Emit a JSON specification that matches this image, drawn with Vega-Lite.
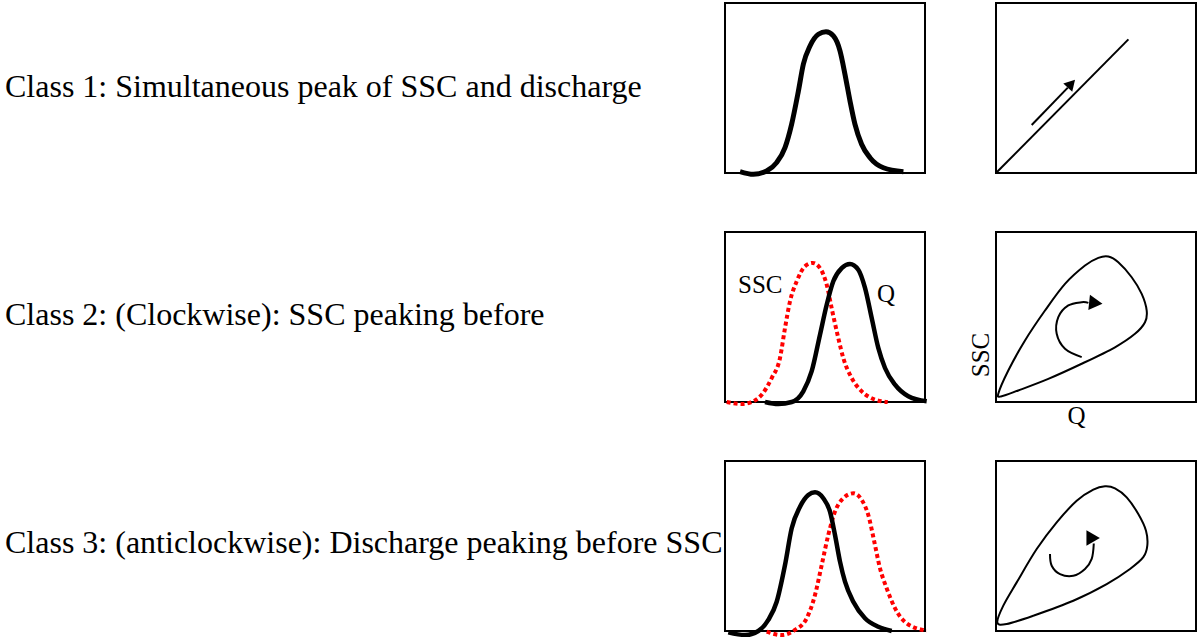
{
  "$schema": "https://vega.github.io/schema/vega-lite/v6.json",
  "padding": {"left": 0, "top": 2, "right": 0, "bottom": 0},
  "background": "white",
  "config": {"view": {"stroke": "black", "strokeWidth": 2}, "font": "Liberation Serif"},
  "datasets": {
    "lab1": [{"label": "Class 1: Simultaneous peak of SSC and discharge"}],
    "lab2": [{"label": "Class 2: (Clockwise): SSC peaking before"}],
    "lab3": [{"label": "Class 3: (anticlockwise): Discharge peaking before SSC"}],
    "r1_q": [
      {"t": 7.5, "v": 0.8}, {"t": 14.2, "v": -0.8}, {"t": 20.8, "v": 1.2}, {"t": 25.8, "v": 6.1},
      {"t": 30, "v": 14.9}, {"t": 33.3, "v": 28.6}, {"t": 36.7, "v": 48.2}, {"t": 39.2, "v": 64.1},
      {"t": 42.5, "v": 74.7}, {"t": 46.7, "v": 81.6}, {"t": 50.5, "v": 83.1}, {"t": 54.2, "v": 80.6},
      {"t": 57.5, "v": 71.8}, {"t": 60, "v": 58}, {"t": 62.5, "v": 42.4}, {"t": 65, "v": 28.6},
      {"t": 68.3, "v": 16.9}, {"t": 72.5, "v": 9}, {"t": 79.2, "v": 3.1}, {"t": 89.2, "v": 0.8}
    ],
    "r1_diag": [{"q": 0, "ssc": 0}, {"q": 66.2, "ssc": 78.6}],
    "r1_arrow": [{"q": 17.85, "ssc": 28.2}, {"q": 35.9, "ssc": 50.2}],
    "r1_head": [{"q": 37.7, "ssc": 52.5}],
    "r2_ssc": [
      {"t": 0.85, "v": 0}, {"t": 8.35, "v": -1.2}, {"t": 13.35, "v": 0}, {"t": 18.35, "v": 4.3},
      {"t": 23.35, "v": 14.1}, {"t": 27.5, "v": 25.9}, {"t": 30, "v": 43.5}, {"t": 32.5, "v": 59.2},
      {"t": 35.85, "v": 71}, {"t": 40, "v": 79.8}, {"t": 43.85, "v": 81.8}, {"t": 47.5, "v": 78.8},
      {"t": 50.85, "v": 69}, {"t": 53.65, "v": 53.4}, {"t": 56.65, "v": 37.6}, {"t": 59.15, "v": 25.9},
      {"t": 63.35, "v": 14.1}, {"t": 68.35, "v": 6.3}, {"t": 75, "v": 1.4}, {"t": 81.35, "v": 0}
    ],
    "r2_q": [
      {"t": 20, "v": 0}, {"t": 26.65, "v": -1.2}, {"t": 33.35, "v": 0}, {"t": 39.15, "v": 6.3},
      {"t": 43.35, "v": 18.1}, {"t": 47.5, "v": 39.6}, {"t": 50.85, "v": 57.2}, {"t": 54.15, "v": 71},
      {"t": 58.35, "v": 78.8}, {"t": 62.5, "v": 81.2}, {"t": 66.65, "v": 77.8}, {"t": 70, "v": 67.1},
      {"t": 73.35, "v": 49.4}, {"t": 76.65, "v": 31.8}, {"t": 80, "v": 20}, {"t": 85, "v": 10.2},
      {"t": 91.65, "v": 3.4}, {"t": 100.85, "v": 0.4}
    ],
    "r2_text": [{"t": 6.5, "v": 64.1, "label": "SSC"}, {"t": 76, "v": 58.8, "label": "Q"}],
    "r2_loop": [
      {"i": 1, "q": 1.15, "ssc": 4.8}, {"i": 2, "q": 6.15, "ssc": 18.5}, {"i": 3, "q": 14.5, "ssc": 36.2},
      {"i": 4, "q": 24.5, "ssc": 53.8}, {"i": 5, "q": 34.5, "ssc": 69.5}, {"i": 6, "q": 44.5, "ssc": 80.3},
      {"i": 7, "q": 51.15, "ssc": 84.8}, {"i": 8, "q": 56.15, "ssc": 85.6}, {"i": 9, "q": 61.15, "ssc": 82.2},
      {"i": 10, "q": 67.85, "ssc": 73.4}, {"i": 11, "q": 72.85, "ssc": 63.6}, {"i": 12, "q": 75.35, "ssc": 53.8},
      {"i": 13, "q": 74.5, "ssc": 46.9}, {"i": 14, "q": 69.5, "ssc": 40.1}, {"i": 15, "q": 59.5, "ssc": 32.2},
      {"i": 16, "q": 42.85, "ssc": 22.5}, {"i": 17, "q": 26.15, "ssc": 13.6}, {"i": 18, "q": 11.15, "ssc": 6.8},
      {"i": 19, "q": 2.85, "ssc": 3.4}
    ],
    "r2_arrow": [
      {"i": 1, "q": 42.85, "ssc": 26.4}, {"i": 2, "q": 34.5, "ssc": 31.3}, {"i": 3, "q": 30.35, "ssc": 40.1},
      {"i": 4, "q": 31.15, "ssc": 49.9}, {"i": 5, "q": 36.15, "ssc": 56.8}, {"i": 6, "q": 42.85, "ssc": 58.7},
      {"i": 7, "q": 46.2, "ssc": 58.3}
    ],
    "r2_head": [{"q": 49.9, "ssc": 58.2}],
    "r3_q": [
      {"t": 1.65, "v": -0.8}, {"t": 10, "v": -2.4}, {"t": 16.65, "v": 0}, {"t": 21.65, "v": 6.5},
      {"t": 25.85, "v": 17.2}, {"t": 30, "v": 38.8}, {"t": 33.35, "v": 60.4}, {"t": 37.5, "v": 73.1},
      {"t": 41.65, "v": 80}, {"t": 45, "v": 81.6}, {"t": 49.15, "v": 78.1}, {"t": 52.5, "v": 70.2},
      {"t": 55, "v": 56.5}, {"t": 57.5, "v": 40.8}, {"t": 60, "v": 29}, {"t": 64.15, "v": 17.2},
      {"t": 70, "v": 7.5}, {"t": 76.65, "v": 2.5}, {"t": 83.35, "v": 0}
    ],
    "r3_ssc": [
      {"t": 20.85, "v": -0.4}, {"t": 28.35, "v": -2.4}, {"t": 35, "v": 0.6}, {"t": 40.85, "v": 7.5},
      {"t": 45, "v": 21.2}, {"t": 48.35, "v": 38.8}, {"t": 51.65, "v": 56.5}, {"t": 55, "v": 70.2},
      {"t": 59.15, "v": 78.1}, {"t": 64.15, "v": 81}, {"t": 68.35, "v": 77.1}, {"t": 71.65, "v": 68.2},
      {"t": 74.65, "v": 52.5}, {"t": 77.5, "v": 36.9}, {"t": 80.85, "v": 25.1}, {"t": 85, "v": 13.4},
      {"t": 90.85, "v": 4.5}, {"t": 100.85, "v": 0.2}
    ],
    "r3_loop": [
      {"i": 1, "q": 0.65, "ssc": 5.1}, {"i": 2, "q": 3.65, "ssc": 14.9}, {"i": 3, "q": 10.35, "ssc": 28.6},
      {"i": 4, "q": 20.35, "ssc": 48.2}, {"i": 5, "q": 30.35, "ssc": 63.9}, {"i": 6, "q": 40.35, "ssc": 76.6},
      {"i": 7, "q": 48.65, "ssc": 83.1}, {"i": 8, "q": 54.5, "ssc": 85.1}, {"i": 9, "q": 59.5, "ssc": 83.9},
      {"i": 10, "q": 65.35, "ssc": 78.6}, {"i": 11, "q": 71.15, "ssc": 68.8}, {"i": 12, "q": 75, "ssc": 59},
      {"i": 13, "q": 75.65, "ssc": 50.2}, {"i": 14, "q": 73.65, "ssc": 43.4}, {"i": 15, "q": 67, "ssc": 36.5},
      {"i": 16, "q": 55.35, "ssc": 27.6}, {"i": 17, "q": 38.65, "ssc": 17.8}, {"i": 18, "q": 18.65, "ssc": 9},
      {"i": 19, "q": 5.35, "ssc": 4.1}
    ],
    "r3_arrow": [
      {"i": 1, "q": 27, "ssc": 45.3}, {"i": 2, "q": 27.85, "ssc": 38.4}, {"i": 3, "q": 32, "ssc": 33.5},
      {"i": 4, "q": 38.65, "ssc": 32.5}, {"i": 5, "q": 44.5, "ssc": 36.5}, {"i": 6, "q": 47.85, "ssc": 42.4},
      {"i": 7, "q": 48.9, "ssc": 51.5}
    ],
    "r3_head": [{"q": 46.9, "ssc": 55.8}]
  },
  "columns": 3,
  "spacing": {"row": 59, "column": 71},
  "bounds": "flush",
  "concat": [
    {
      "width": 654, "height": 170,
      "view": {"stroke": null},
      "data": {"name": "lab1"},
      "mark": {"type": "text", "align": "left", "baseline": "alphabetic", "dx": 5, "font": "Liberation Serif", "fontSize": 32, "fill": "black"},
      "encoding": {
        "x": {"datum": 0, "type": "quantitative", "scale": {"domain": [0, 1]}, "axis": null},
        "y": {"datum": 0.445, "type": "quantitative", "scale": {"domain": [0, 1]}, "axis": null},
        "text": {"field": "label"}
      }
    },
    {
      "width": 200, "height": 170,
      "encoding": {
        "x": {"field": "t", "type": "quantitative", "scale": {"domain": [0, 100]}, "axis": null},
        "y": {"field": "v", "type": "quantitative", "scale": {"domain": [0, 100]}, "axis": null}
      },
      "layer": [
        {"data": {"name": "r1_q"}, "mark": {"type": "line", "interpolate": "monotone", "stroke": "black", "strokeWidth": 5}}
      ]
    },
    {
      "width": 200, "height": 170,
      "encoding": {
        "x": {"field": "q", "type": "quantitative", "scale": {"domain": [0, 100]}, "axis": null},
        "y": {"field": "ssc", "type": "quantitative", "scale": {"domain": [0, 100]}, "axis": null}
      },
      "layer": [
        {"data": {"name": "r1_diag"}, "mark": {"type": "line", "stroke": "black", "strokeWidth": 2}},
        {"data": {"name": "r1_arrow"}, "mark": {"type": "line", "stroke": "black", "strokeWidth": 2}},
        {"data": {"name": "r1_head"}, "mark": {"type": "point", "shape": "triangle-up", "filled": true, "fill": "black", "opacity": 1, "strokeWidth": 0, "size": 150, "angle": 43}}
      ]
    },
    {
      "width": 654, "height": 170,
      "view": {"stroke": null},
      "data": {"name": "lab2"},
      "mark": {"type": "text", "align": "left", "baseline": "alphabetic", "dx": 5, "font": "Liberation Serif", "fontSize": 32, "fill": "black"},
      "encoding": {
        "x": {"datum": 0, "type": "quantitative", "scale": {"domain": [0, 1]}, "axis": null},
        "y": {"datum": 0.455, "type": "quantitative", "scale": {"domain": [0, 1]}, "axis": null},
        "text": {"field": "label"}
      }
    },
    {
      "width": 200, "height": 170,
      "encoding": {
        "x": {"field": "t", "type": "quantitative", "scale": {"domain": [0, 100]}, "axis": null},
        "y": {"field": "v", "type": "quantitative", "scale": {"domain": [0, 100]}, "axis": null}
      },
      "layer": [
        {"data": {"name": "r2_ssc"}, "mark": {"type": "line", "interpolate": "monotone", "stroke": "#ff0000", "strokeWidth": 4, "strokeDash": [4, 3]}},
        {"data": {"name": "r2_q"}, "mark": {"type": "line", "interpolate": "monotone", "stroke": "black", "strokeWidth": 4.5}},
        {"data": {"name": "r2_text"}, "mark": {"type": "text", "align": "left", "baseline": "alphabetic", "font": "Liberation Serif", "fontSize": 25, "fill": "black"}, "encoding": {"text": {"field": "label"}}}
      ]
    },
    {
      "width": 200, "height": 170,
      "encoding": {
        "x": {"field": "q", "type": "quantitative", "scale": {"domain": [0, 100]},
              "axis": {"title": "Q", "labels": false, "ticks": false, "domain": false, "grid": false, "titleFont": "Liberation Serif", "titleFontSize": 25, "titleFontWeight": "normal", "titleColor": "black", "titleAlign": "center", "titleBaseline": "alphabetic", "titleX": 80, "titleY": 21.5}},
        "y": {"field": "ssc", "type": "quantitative", "scale": {"domain": [0, 100]},
              "axis": {"title": "SSC", "labels": false, "ticks": false, "domain": false, "grid": false, "titleFont": "Liberation Serif", "titleFontSize": 25, "titleFontWeight": "normal", "titleColor": "black", "titleAngle": 270, "titleAlign": "center", "titleBaseline": "alphabetic", "titleX": -8, "titleY": 122.5}}
      },
      "layer": [
        {"data": {"name": "r2_loop"}, "mark": {"type": "line", "interpolate": "cardinal-closed", "stroke": "black", "strokeWidth": 2}, "encoding": {"order": {"field": "i", "type": "quantitative"}}},
        {"data": {"name": "r2_arrow"}, "mark": {"type": "line", "interpolate": "cardinal", "stroke": "black", "strokeWidth": 2}, "encoding": {"order": {"field": "i", "type": "quantitative"}}},
        {"data": {"name": "r2_head"}, "mark": {"type": "point", "shape": "triangle-up", "filled": true, "fill": "black", "opacity": 1, "strokeWidth": 0, "size": 240, "angle": 96}}
      ]
    },
    {
      "width": 654, "height": 170,
      "view": {"stroke": null},
      "data": {"name": "lab3"},
      "mark": {"type": "text", "align": "left", "baseline": "alphabetic", "dx": 5, "font": "Liberation Serif", "fontSize": 32, "fill": "black"},
      "encoding": {
        "x": {"datum": 0, "type": "quantitative", "scale": {"domain": [0, 1]}, "axis": null},
        "y": {"datum": 0.46, "type": "quantitative", "scale": {"domain": [0, 1]}, "axis": null},
        "text": {"field": "label"}
      }
    },
    {
      "width": 200, "height": 170,
      "encoding": {
        "x": {"field": "t", "type": "quantitative", "scale": {"domain": [0, 100]}, "axis": null},
        "y": {"field": "v", "type": "quantitative", "scale": {"domain": [0, 100]}, "axis": null}
      },
      "layer": [
        {"data": {"name": "r3_ssc"}, "mark": {"type": "line", "interpolate": "monotone", "stroke": "#ff0000", "strokeWidth": 4, "strokeDash": [4, 3]}},
        {"data": {"name": "r3_q"}, "mark": {"type": "line", "interpolate": "monotone", "stroke": "black", "strokeWidth": 4.5}}
      ]
    },
    {
      "width": 200, "height": 170,
      "encoding": {
        "x": {"field": "q", "type": "quantitative", "scale": {"domain": [0, 100]}, "axis": null},
        "y": {"field": "ssc", "type": "quantitative", "scale": {"domain": [0, 100]}, "axis": null}
      },
      "layer": [
        {"data": {"name": "r3_loop"}, "mark": {"type": "line", "interpolate": "cardinal-closed", "stroke": "black", "strokeWidth": 2}, "encoding": {"order": {"field": "i", "type": "quantitative"}}},
        {"data": {"name": "r3_arrow"}, "mark": {"type": "line", "interpolate": "cardinal", "stroke": "black", "strokeWidth": 2}, "encoding": {"order": {"field": "i", "type": "quantitative"}}},
        {"data": {"name": "r3_head"}, "mark": {"type": "point", "shape": "triangle-up", "filled": true, "fill": "black", "opacity": 1, "strokeWidth": 0, "size": 240, "angle": 330}}
      ]
    }
  ]
}
